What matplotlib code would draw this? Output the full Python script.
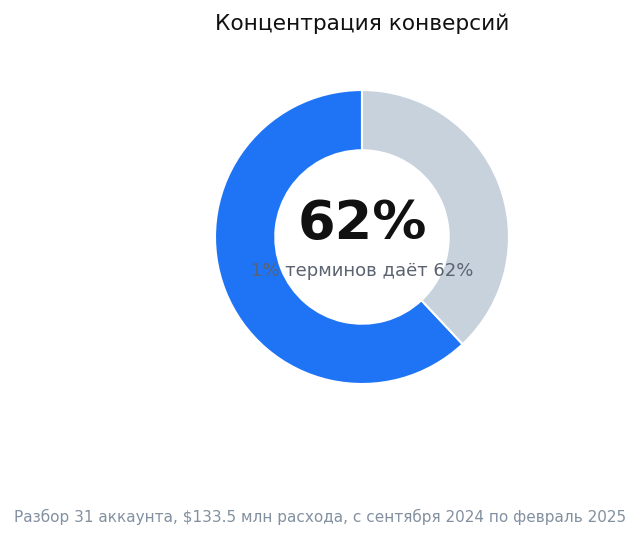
import matplotlib
matplotlib.use("Agg")
import matplotlib.pyplot as plt

plt.rcParams["font.family"] = ["DejaVu Sans"]

labels = ["Топ 1% терминов", "Остальные"]
values = [62, 38]
colors = ["#1f74f5", "#c8d2dd"]
title = "Концентрация конверсий"
center_value = "62%"
center_caption = "1% терминов даёт 62%"
footer = "Разбор 31 аккаунта, $133.5 млн расхода, с сентября 2024 по февраль 2025"

W, H = 641, 541
fig = plt.figure(figsize=(W / 100, H / 100), dpi=100)
fig.patch.set_facecolor("white")

cx, cy, r = 362, 237, 147
ax = fig.add_axes([(cx - r) / W, (H - cy - r) / H, 2 * r / W, 2 * r / H])
ax.pie(values, colors=colors, startangle=90, counterclock=True,
       wedgeprops=dict(width=0.41, edgecolor="white", linewidth=1.5))
ax.set_xlim(-1, 1)
ax.set_ylim(-1, 1)
ax.set_aspect("equal")
ax.axis("off")

ax.text(0, 0.09, center_value, ha="center", va="center", fontsize=39,
        fontweight="bold", color="#111111")
ax.text(0, -0.23, center_caption, ha="center", va="center", fontsize=13,
        color="#5b6370")

fig.text(cx / W, 1 - 24 / H, title, ha="center", va="center", fontsize=15.6,
         color="#111111")
fig.text(320 / W, 1 - 517 / H, footer, ha="center", va="center", fontsize=11,
         color="#8290a0")

fig.savefig("out.png", dpi=100)
